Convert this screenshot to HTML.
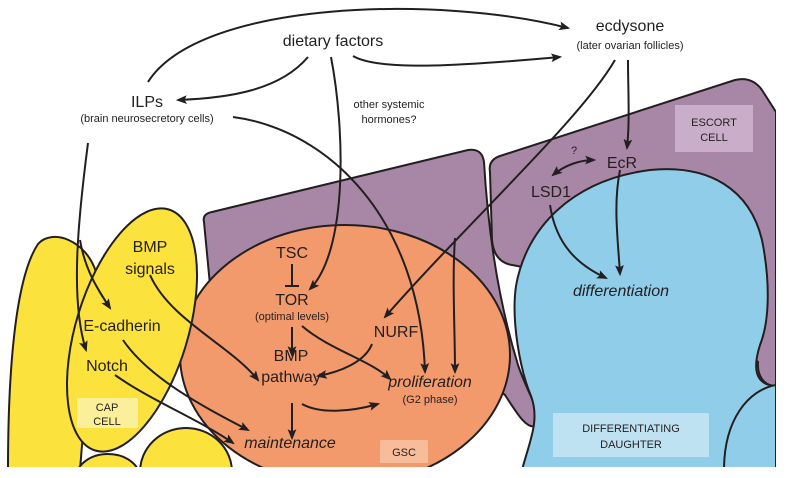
<!DOCTYPE html>
<html><head><meta charset="utf-8"><style>
html,body{margin:0;padding:0;background:#fff;width:786px;height:478px;overflow:hidden;}
svg{display:block;}
text{font-family:"Liberation Sans",Arial,sans-serif;fill:#231f20;}
</style></head><body>
<svg width="786" height="478" viewBox="0 0 786 478" xmlns="http://www.w3.org/2000/svg">
<defs>
<marker id="b" viewBox="0 0 10 10" refX="8" refY="5" markerWidth="11" markerHeight="11" orient="auto-start-reverse" markerUnits="userSpaceOnUse">
<path d="M0,1 L10,5 L0,9 L2,5 z" fill="#231f20"/></marker>
<clipPath id="c"><rect x="0" y="0" width="776" height="467"/></clipPath>
</defs>
<g clip-path="url(#c)" stroke="#231f20" stroke-width="2">
<path d="M204,222 Q202,214 212,212 L468,150 Q482,148 484,162 C488,230 498,300 518,365 C528,395 545,418 536,426 C526,430 515,410 505,395 L380,300 L210,285 Z" fill="#a887a6"/>
<path d="M490,172 Q488,160 500,156 L735,80 Q752,76 762,90 L776,112 L776,386 C764,386 757,376 758,362 L700,300 L512,265 Q494,262 492,240 Z" fill="#a887a6"/>
<ellipse cx="345" cy="355" rx="165" ry="130" fill="#f39a6c"/>
<path d="M522,470 C530,440 540,420 531,396 C520,370 511,320 516,286 C526,228 572,180 650,170 C710,164 750,190 762,240 C770,280 770,320 760,345 C752,370 756,385 776,386 L776,470 Z" fill="#8fcde9"/>
<path d="M724,470 C724,420 748,390 776,385 L776,470 Z" fill="#8fcde9"/>
<path d="M8,470 C8,380 14,280 38,244 C52,228 86,240 96,272 L80,470 Z" fill="#fbe23c"/>
<ellipse cx="132" cy="330" rx="56" ry="126" transform="rotate(17 132 330)" fill="#fbe23c"/>
<ellipse cx="108" cy="478" rx="32" ry="24" fill="#fbe23c"/>
<ellipse cx="186" cy="472" rx="46" ry="44" fill="#fbe23c"/>
</g>
<rect x="675" y="105" width="78" height="47" fill="#c9adc9"/>
<rect x="77" y="398" width="61" height="30" fill="#fcef9a"/>
<rect x="380" y="440" width="48" height="23" fill="#f7bc9a"/>
<rect x="553" y="413" width="156" height="44" fill="#bfe2f3"/>
<g font-size="11" text-anchor="middle">
<text x="714" y="126">ESCORT</text><text x="714" y="141">CELL</text>
<text x="107" y="411">CAP</text><text x="107" y="425">CELL</text>
<text x="404" y="456">GSC</text>
<text x="631" y="432">DIFFERENTIATING</text><text x="631" y="448">DAUGHTER</text>
</g>
<g fill="none" stroke="#231f20" stroke-width="2">
<path d="M148,82 C200,0 440,-5 568,28" marker-end="url(#b)"/>
<path d="M308,57 C280,90 230,98 178,100" marker-end="url(#b)"/>
<path d="M353,56 C380,72 470,65 560,57" marker-end="url(#b)"/>
<path d="M331,57 C345,130 348,250 310,289" marker-end="url(#b)"/>
<path d="M233,117 C330,130 420,220 425,372" marker-end="url(#b)"/>
<path d="M455,238 C452,280 455,330 455,372" marker-end="url(#b)"/>
<path d="M615,60 C580,120 470,220 385,317" marker-end="url(#b)"/>
<path d="M628,60 C628,90 630,120 627,148" marker-end="url(#b)"/>
<path d="M553,175 C565,165 580,160 594,160" marker-end="url(#b)" marker-start="url(#b)"/>
<path d="M550,205 C556,245 578,265 606,278" marker-end="url(#b)"/>
<path d="M620,170 C613,205 618,240 620,274" marker-end="url(#b)"/>
<path d="M88,143 C78,220 70,300 86,350" marker-end="url(#b)"/>
<path d="M80,240 C85,270 98,290 110,308" marker-end="url(#b)"/>
<path d="M150,275 C170,320 230,345 258,380" marker-end="url(#b)"/>
<path d="M123,340 C150,380 210,410 248,430" marker-end="url(#b)"/>
<path d="M115,375 C150,400 200,420 233,443" marker-end="url(#b)"/>
<path d="M292,264 L292,286"/><path d="M285,286 L299,286"/>
<path d="M292,327 L292,355" marker-end="url(#b)"/>
<path d="M302,326 C330,350 370,360 390,379" marker-end="url(#b)"/>
<path d="M372,344 C365,362 340,372 318,376" marker-end="url(#b)"/>
<path d="M292,403 L292,438" marker-end="url(#b)"/>
<path d="M302,404 C320,414 350,412 378,404" marker-end="url(#b)"/>
</g>
<g text-anchor="middle" font-size="16">
<text x="333" y="46">dietary factors</text>
<text x="630" y="31">ecdysone</text>
<text x="147" y="107">ILPs</text>
<text x="622" y="168">EcR</text>
<text x="551" y="197">LSD1</text>
<text x="621" y="296" font-style="italic">differentiation</text>
<text x="150" y="252">BMP</text><text x="150" y="274">signals</text>
<text x="122" y="331">E-cadherin</text>
<text x="107" y="371">Notch</text>
<text x="292" y="258">TSC</text>
<text x="292" y="305">TOR</text>
<text x="396" y="337">NURF</text>
<text x="291" y="361">BMP</text><text x="291" y="382">pathway</text>
<text x="430" y="387" font-style="italic">proliferation</text>
<text x="290" y="448" font-style="italic">maintenance</text>
</g>
<g text-anchor="middle" font-size="11">
<text x="630" y="49">(later ovarian follicles)</text>
<text x="147" y="122">(brain neurosecretory cells)</text>
<text x="389" y="108">other systemic</text><text x="389" y="123">hormones?</text>
<text x="574" y="154">?</text>
<text x="292" y="320">(optimal levels)</text>
<text x="430" y="403">(G2 phase)</text>
</g>
</svg>
</body></html>
